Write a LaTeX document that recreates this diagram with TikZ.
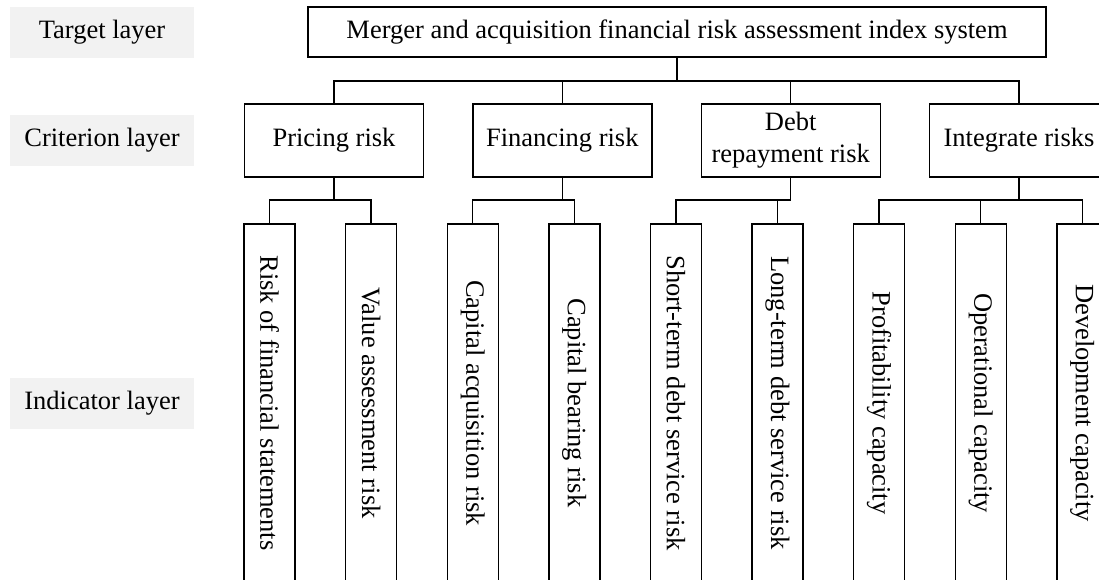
\documentclass[tikz,border=0pt]{standalone}
\usepackage{fontspec}
\setmainfont{Liberation Serif}
\begin{document}
\begin{tikzpicture}[x=1pt,y=1pt,
  every node/.style={font=\fontsize{26.5}{31.7}\selectfont, inner sep=0pt},
  layerlabel/.style={fill=black!5, minimum width=184pt, minimum height=51pt},
  topbox/.style={draw, line width=1.4pt, minimum width=738pt, minimum height=50pt},
  critbox/.style={draw, line width=1.4pt, minimum width=179pt, minimum height=73pt, align=center},
  indbox/.style={draw, line width=1.4pt, rotate=-90, minimum width=358pt, minimum height=51pt},
  conn/.style={line width=1.4pt}
]
\useasboundingbox (0,0) rectangle (1099,-579);
\fill[white] (0,0) rectangle (1099,-579);
\clip (0,0) rectangle (1099,-579);

% layer labels
\node[layerlabel] (lt) at (102,-32) {Target layer};
\node[layerlabel] (lc) at (102,-140.5) {Criterion layer};
\node[layerlabel] (li) at (102,-403.5) {Indicator layer};

% target
\node[topbox] (top) at (677,-32) {Merger and acquisition financial risk assessment index system};

% criteria
\node[critbox] (c1) at (334,-140.5) {Pricing risk};
\node[critbox] (c2) at (562.3,-140.5) {Financing risk};
\node[critbox] (c3) at (790.7,-140.5) {Debt\\repayment risk};
\node[critbox] (c4) at (1019,-140.5) {Integrate risks};

% indicators
\node[indbox] (i1) at (269.5,-403) {Risk of financial statements};
\node[indbox] (i2) at (371.1,-403) {Value assessment risk};
\node[indbox] (i3) at (472.7,-403) {Capital acquisition risk};
\node[indbox] (i4) at (574.3,-403) {Capital bearing risk};
\node[indbox] (i5) at (675.9,-403) {Short-term debt service risk};
\node[indbox] (i6) at (777.5,-403) {Long-term debt service risk};
\node[indbox] (i7) at (879.1,-403) {Profitability capacity};
\node[indbox] (i8) at (980.7,-403) {Operational capacity};
\node[indbox] (i9) at (1082.3,-403) {Development capacity};

% junction points
\coordinate (j0) at (677,-81);
\coordinate (j1) at (334,-200);
\coordinate (j2) at (562.3,-200);
\coordinate (j3) at (790.7,-200);
\coordinate (j4) at (1019,-200);

% connectors top -> criteria
\draw[conn] (top.south) -- (j0);
\draw[conn] (c1.north) |- (j0);
\draw[conn] (c2.north) |- (j0);
\draw[conn] (c3.north) |- (j0);
\draw[conn] (c4.north) |- (j0);

% criteria -> indicators
\draw[conn] (c1.south) -- (j1);
\draw[conn] (i1.west) |- (j1);
\draw[conn] (i2.west) |- (j1);
\draw[conn] (c2.south) -- (j2);
\draw[conn] (i3.west) |- (j2);
\draw[conn] (i4.west) |- (j2);
\draw[conn] (c3.south) -- (j3);
\draw[conn] (i5.west) |- (j3);
\draw[conn] (i6.west) |- (j3);
\draw[conn] (c4.south) -- (j4);
\draw[conn] (i7.west) |- (j4);
\draw[conn] (i8.west) |- (j4);
\draw[conn] (i9.west) |- (j4);
\end{tikzpicture}
\end{document}
